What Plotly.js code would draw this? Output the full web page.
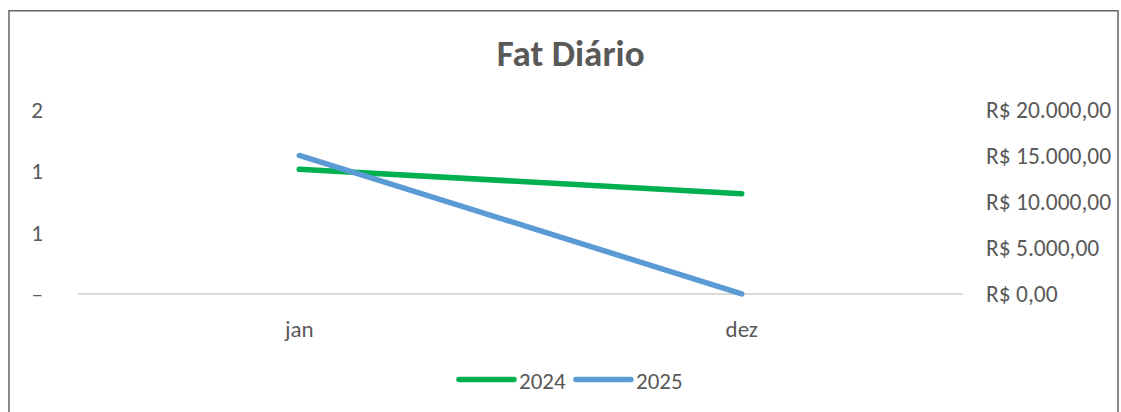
<!DOCTYPE html>
<html>
<head>
<meta charset="utf-8">
<script src="https://cdn.plot.ly/plotly-3.0.1.min.js"></script>
<style>
  html, body { margin: 0; padding: 0; background: #fff; }
  #chart { width: 1121px; height: 412px; }
  #chart .scatterlayer path.js-line, #chart .legendlines path { stroke-linecap: round; }
</style>
</head>
<body>
<div id="chart"></div>
<script>
// ---- data ----
const categories = ['jan', 'dez'];
const series2024 = [13550, 10900];
const series2025 = [15050, 0];
const seriesNames = ['2024', '2025'];
const leftTickVals = [0, 2 / 3, 4 / 3, 2];
const leftTickText = ['–', '1', '1', '2'];
const rightTickVals = [0, 5000, 10000, 15000, 20000];
const rightTickText = ['R$ 0,00', 'R$ 5.000,00', 'R$ 10.000,00', 'R$ 15.000,00', 'R$ 20.000,00'];
const titleText = 'Fat Diário';

const FONT = 'Carlito, Calibri, Lato, sans-serif';
const GREY = '#595959';

// plot area geometry (pixels)
const TOP = 110, ZERO = 295, PAD = 9.25;
const BOTTOM = ZERO + PAD;
const PH = BOTTOM - TOP;

const traces = [
  {
    x: categories, y: [null, null], yaxis: 'y', type: 'scatter', mode: 'lines',
    showlegend: false, hoverinfo: 'skip'
  },
  {
    x: categories, y: series2024, yaxis: 'y2', name: seriesNames[0],
    type: 'scatter', mode: 'lines',
    line: { color: '#00B050', width: 5.5 }
  },
  {
    x: categories, y: series2025, yaxis: 'y2', name: seriesNames[1],
    type: 'scatter', mode: 'lines',
    line: { color: '#5B9BD5', width: 5.5 }
  }
];

const layout = {
  width: 1121, height: 412,
  margin: { l: 78, r: 158, t: TOP, b: 412 - BOTTOM },
  paper_bgcolor: '#ffffff', plot_bgcolor: '#ffffff',
  font: { family: FONT, color: GREY, size: 23 },
  title: {
    text: '<b>' + titleText + '</b>',
    font: { family: FONT, size: 37, color: GREY },
    x: 0.509, xanchor: 'center', y: 0.872, yanchor: 'middle'
  },
  showlegend: true,
  legend: {
    orientation: 'h', x: (571 - 78) / 885, xanchor: 'center',
    y: (BOTTOM - 380) / PH, yanchor: 'middle',
    font: { family: FONT, size: 23, color: GREY },
    itemwidth: 55, traceorder: 'normal', itemclick: false
  },
  xaxis: {
    type: 'category', range: [-0.5, 1.5],
    showgrid: false, zeroline: false, showline: false,
    ticks: '', ticklabelstandoff: 10,
    tickfont: { family: FONT, size: 23, color: GREY },
    fixedrange: true
  },
  yaxis: {
    range: [-2 * PAD / 185, 2], showgrid: false, zeroline: false, showline: false,
    tickmode: 'array', tickvals: leftTickVals, ticktext: leftTickText,
    ticks: '', ticklabelstandoff: 34,
    tickfont: { family: FONT, size: 23, color: GREY },
    fixedrange: true
  },
  yaxis2: {
    overlaying: 'y', side: 'right', range: [-20000 * PAD / 185, 20000],
    showgrid: false, zeroline: true, zerolinecolor: '#d9d9d9', zerolinewidth: 1.5,
    showline: false,
    tickmode: 'array', tickvals: rightTickVals, ticktext: rightTickText,
    ticks: '', ticklabelstandoff: 22,
    tickfont: { family: FONT, size: 23.5, color: GREY },
    fixedrange: true
  },
  shapes: [
    {
      type: 'rect', xref: 'paper', yref: 'paper',
      x0: (9 - 78) / 885, x1: (1118 - 78) / 885,
      y0: (BOTTOM - 430) / PH, y1: (BOTTOM - 10) / PH,
      line: { color: '#666666', width: 1.5 }, fillcolor: 'rgba(0,0,0,0)',
      layer: 'below'
    }
  ]
};

Plotly.newPlot('chart', traces, layout, { displayModeBar: false, staticPlot: true });
</script>
</body>
</html>
